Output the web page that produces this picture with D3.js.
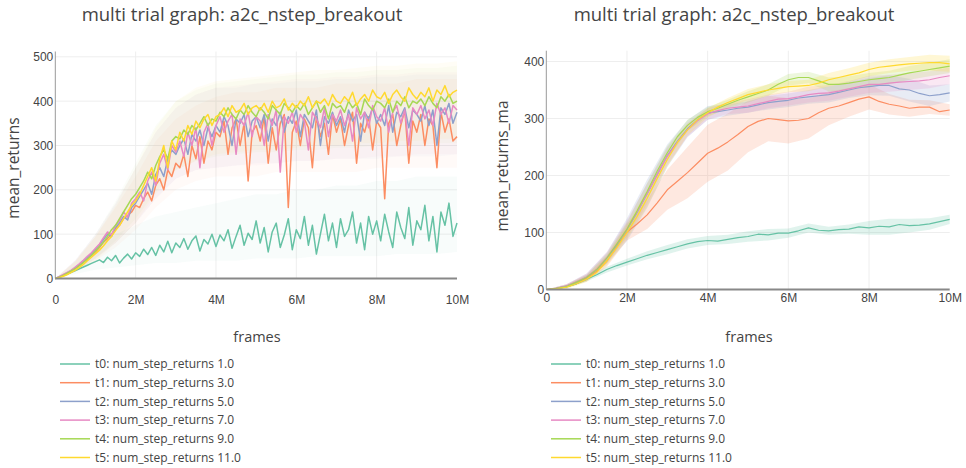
<!DOCTYPE html>
<html>
<head>
<meta charset="utf-8">
<title>multi trial graph: a2c_nstep_breakout</title>
<script src="https://cdn.jsdelivr.net/npm/d3@7"></script>
<style>
  body { margin: 0; background: #fff; }
  svg { font-family: "Open Sans", verdana, arial, sans-serif; }
  .grid line { stroke: #eee; stroke-width: 1px; }
  .tick text { fill: #444; font-size: 12px; }
  .ttl { fill: #444; }
</style>
</head>
<body>
<svg width="966" height="468"></svg>
<script>
var trials = ["t0: num_step_returns 1.0", "t1: num_step_returns 3.0", "t2: num_step_returns 5.0",
              "t3: num_step_returns 7.0", "t4: num_step_returns 9.0", "t5: num_step_returns 11.0"];
var colors = ["#66c2a5", "#fc8d62", "#8da0cb", "#e78ac3", "#a6d854", "#ffd92f"];
var xTicks = [0, 2e6, 4e6, 6e6, 8e6, 10e6];
var xTickLabels = ["0", "2M", "4M", "6M", "8M", "10M"];

// mean_returns, one point every 100k frames
var returnsT0 = [0,3,6,10,14,18,22,26,30,34,38, 42,36,48,40,52,35,46,55,44,58, 50,66,54,70,52,75,60,84,58,80,
  70,90,66,85,96,62,88,78,100,72, 98,85,110,68,95,120,75,102,88,130, 80,115,60,105,125,70,98,135,65,110,
  90,140,75,120,55,100,145,85,125,70, 135,95,110,150,80,125,65,140,100,130, 85,145,105,70,150,115,90,160,75,130,
  110,165,85,140,60,150,120,170,95,125];
var returnsT1 = [0,3,7,12,17,23,30,37,44,52,60, 70,82,90,100,112,120,135,142,150,165, 160,180,195,175,210,225,200,245,230,260,
  250,280,230,300,270,320,260,310,290,330, 320,355,280,340,360,300,350,220,330,345, 310,365,260,340,290,350,370,160,330,355,
  300,360,340,250,365,320,350,280,370,330, 360,300,345,375,260,350,330,365,290,355, 340,180,350,370,300,345,380,260,355,330,
  370,300,360,345,250,375,330,360,310,320];
var returnsT2 = [0,4,8,13,18,24,32,40,48,56,66, 76,88,100,95,115,125,140,132,160,170, 185,200,215,190,235,250,230,270,290,280,
  300,315,280,325,310,335,300,340,320,345, 330,365,345,300,360,350,370,320,355,365, 340,370,310,360,345,375,330,365,350,380,
  320,370,355,340,380,300,365,350,375,345, 365,330,380,355,370,310,375,360,385,350, 370,345,390,330,375,365,385,340,380,370,
  355,390,345,380,300,385,370,395,350,375];
var returnsT3 = [0,4,9,14,19,26,33,41,50,58,68, 78,92,105,98,120,130,150,138,170,180, 195,175,220,240,210,260,280,245,300,285,
  310,275,330,300,340,250,330,350,300,345, 365,330,355,370,280,360,345,375,320,365, 355,300,370,345,380,240,365,350,375,330,
  370,355,290,375,360,340,385,320,370,355, 380,345,370,310,385,360,375,340,390,365, 355,385,330,375,390,350,380,300,385,370,
  390,360,380,345,395,370,385,350,390,380];
var returnsT4 = [0,3,7,12,17,22,29,36,44,52,62, 72,82,95,110,120,135,150,165,180,190, 205,220,240,225,255,275,290,270,310,320,
  315,335,325,345,335,350,365,345,360,355, 375,365,385,370,360,380,370,390,375,365, 385,375,360,390,380,370,395,385,375,390,
  380,395,370,385,400,375,390,360,395,385, 390,375,400,385,395,370,405,390,380,400, 395,385,405,375,400,390,410,385,400,395,
  405,390,410,395,385,410,400,415,395,400];
var returnsT5 = [0,2,5,9,14,19,25,32,40,48,56, 64,74,85,95,108,120,135,150,165,175, 190,210,230,250,220,270,300,250,310,290,
  330,310,345,325,355,340,360,370,345,365, 370,385,365,390,375,380,395,370,385,390, 380,395,375,400,385,390,405,380,395,385,
  400,390,410,385,400,395,405,390,415,400, 395,410,400,420,390,405,415,400,425,410, 405,420,395,415,425,410,400,430,415,405,
  420,410,430,400,425,415,435,410,420,425];

// mean_returns trial spread, one point every 500k frames
var returnsLo = [
  [0,10,20,25,30,35,35,40,40,40,45,45,45,50,50,50,50,55,55,55,60],
  [0,15,40,70,110,160,200,220,230,230,230,240,240,240,240,240,250,250,250,250,250],
  [0,16,45,80,125,180,225,245,250,255,260,260,265,265,270,270,270,275,275,275,280],
  [0,16,45,80,125,180,225,245,250,255,255,260,265,265,270,270,275,275,280,280,280],
  [0,15,45,85,135,195,245,265,275,280,285,285,290,290,295,295,300,300,300,305,305],
  [0,14,40,80,125,190,245,265,280,285,290,290,295,300,300,305,305,310,310,315,315]];
var returnsHi = [
  [0,30,70,100,120,140,150,160,170,180,190,190,200,200,210,210,220,220,230,230,230],
  [0,40,95,160,230,310,360,390,410,420,420,430,430,430,440,440,440,440,450,450,450],
  [0,42,100,170,250,330,385,415,430,430,440,440,445,445,450,450,455,455,460,460,460],
  [0,42,100,170,250,330,385,415,430,435,440,445,450,450,455,455,460,460,465,465,465],
  [0,40,100,175,260,345,400,425,440,445,450,455,460,460,465,465,470,470,475,475,480],
  [0,38,95,165,250,340,400,430,445,450,455,460,465,470,470,475,480,480,485,485,490]];

// mean_returns_ma, one point every 250k frames
var maT0 = [0,1,5,10,18,26,35,42,48,54,60,65,70,75,80,84,86,85,88,91,93,97,96,99,99,103,108,104,103,105,106,110,108,111,110,114,112,113,115,119,123];
var maT1 = [0,2,6,12,20,32,50,75,101,115,131,152,175,190,205,222,239,248,259,272,286,295,300,298,296,297,300,310,318,322,328,334,338,330,325,322,318,320,320,312,315];
var maT2 = [0,2,6,13,22,35,55,78,105,135,168,202,235,260,282,298,310,312,315,318,320,324,328,330,332,336,338,340,342,346,350,354,356,358,358,352,350,344,340,342,345];
var maT3 = [0,2,6,14,22,36,56,80,106,136,168,202,234,258,280,296,308,314,318,320,322,326,330,334,335,338,342,344,345,348,352,356,360,360,362,364,365,366,368,372,375];
var maT4 = [0,2,5,13,21,35,55,80,106,138,172,208,240,268,288,302,312,318,325,332,338,344,350,360,368,372,372,366,360,360,362,365,368,370,372,376,380,383,386,389,392];
var maT5 = [0,1,4,10,18,30,50,74,100,128,160,195,228,258,280,298,310,320,328,335,342,346,350,353,356,357,358,362,368,372,376,380,386,390,392,394,396,397,398,398,396];

// mean_returns_ma trial spread (+/-), one point every 500k frames
var maSpread = [
  [0,2,4,5,6,7,8,8,8,8,9,10,8,8,7,8,12,14,12,10,8],
  [0,3,6,10,15,25,35,45,50,50,45,40,40,35,30,25,22,18,15,12,10],
  [0,3,6,10,20,25,20,15,12,10,10,12,12,12,14,14,15,18,20,18,15],
  [0,3,6,10,15,18,15,12,10,10,12,12,12,14,14,14,15,15,15,15,15],
  [0,3,5,8,12,15,12,10,8,8,10,10,10,10,12,12,12,12,12,12,12],
  [0,3,5,8,12,15,12,10,8,8,10,10,10,10,12,12,12,12,12,14,14]];

var returns = [returnsT0, returnsT1, returnsT2, returnsT3, returnsT4, returnsT5];
var ma = [maT0, maT1, maT2, maT3, maT4, maT5];

var svg = d3.select("svg");

function panel(opt) {
  var g = svg.append("g");
  var x = d3.scaleLinear().domain([0, 10e6]).range([opt.left, opt.right]);
  var y = d3.scaleLinear().domain([0, opt.ymax]).range([opt.bottom, opt.top]);

  // grid
  g.append("g").attr("class", "grid").selectAll("line")
    .data(xTicks.slice(1, 5)).enter().append("line")
    .attr("x1", function(d) { return x(d); }).attr("x2", function(d) { return x(d); })
    .attr("y1", y(opt.ymax)).attr("y2", opt.bottom);
  g.append("g").attr("class", "grid").selectAll("line")
    .data(opt.yTicks.slice(1)).enter().append("line")
    .attr("x1", opt.left).attr("x2", opt.right)
    .attr("y1", function(d) { return y(d); }).attr("y2", function(d) { return y(d); });

  // bands
  var area = d3.area()
    .x(function(d) { return x(d.x); })
    .y0(function(d) { return y(d.lo); })
    .y1(function(d) { return y(d.hi); });
  opt.bands.forEach(function(b, i) {
    g.append("path").attr("d", area(b))
      .attr("fill", colors[i]).attr("fill-opacity", opt.bandOpacity).attr("stroke", "none");
  });

  // lines
  var line = d3.line()
    .x(function(d) { return x(d.x); })
    .y(function(d) { return y(d.y); });
  opt.series.forEach(function(s, i) {
    g.append("path").attr("d", line(s))
      .attr("fill", "none").attr("stroke", colors[i])
      .attr("stroke-width", opt.lineWidth).attr("stroke-linejoin", "round");
  });

  // axes
  var ax = g.append("g").attr("transform", "translate(0," + opt.bottom + ")")
    .call(d3.axisBottom(x).tickValues(xTicks).tickSize(0).tickPadding(opt.xPad)
      .tickFormat(function(d, i) { return xTickLabels[i]; }));
  ax.select(".domain").remove();
  var ay = g.append("g").attr("transform", "translate(" + opt.left + ",0)")
    .call(d3.axisLeft(y).tickValues(opt.yTicks).tickSize(0).tickPadding(2));
  ay.select(".domain").remove();
  g.selectAll(".tick text").attr("font-family", null).attr("font-size", null);

  g.append("line").attr("x1", opt.left).attr("x2", opt.left)
    .attr("y1", opt.top).attr("y2", opt.bottom)
    .attr("stroke", "#999").attr("stroke-width", 1);
  g.append("line").attr("x1", opt.left).attr("x2", opt.right)
    .attr("y1", opt.bottom).attr("y2", opt.bottom)
    .attr("stroke", "#888").attr("stroke-width", 2);

  // titles
  g.append("text").attr("class", "ttl").attr("x", opt.titleX).attr("y", 21)
    .attr("text-anchor", "middle").style("font-size", "18.5px")
    .text("multi trial graph: a2c_nstep_breakout");
  g.append("text").attr("class", "ttl").attr("x", opt.framesX).attr("y", 342)
    .attr("text-anchor", "middle").style("font-size", "14.5px").text("frames");
  g.append("text").attr("class", "ttl")
    .attr("transform", "translate(" + opt.yTitleX + "," + opt.yTitleY + ") rotate(-90)")
    .attr("text-anchor", "middle").style("font-size", "15.5px").text(opt.yTitle);

  // legend
  var lg = g.append("g").selectAll("g").data(trials).enter().append("g")
    .attr("transform", function(d, i) { return "translate(" + opt.legendX + "," + (364 + i * 18.7) + ")"; });
  lg.append("line").attr("x1", 0).attr("x2", 30).attr("y1", 0).attr("y2", 0)
    .attr("stroke", function(d, i) { return colors[i]; }).attr("stroke-width", 1.5);
  lg.append("text").attr("x", 35).attr("dy", "0.35em").attr("class", "ttl")
    .style("font-size", "12px").text(function(d) { return d; });
}

panel({
  left: 55.3, right: 457, top: 51.5, bottom: 278.5, ymax: 512,
  yTicks: [0, 100, 200, 300, 400, 500], xPad: 17,
  series: returns.map(function(arr) { return arr.map(function(v, i) { return {x: i * 1e5, y: v}; }); }),
  bands: returnsLo.map(function(lo, k) {
    return lo.map(function(v, i) { return {x: i * 5e5, lo: v, hi: returnsHi[k][i]}; });
  }),
  bandOpacity: 0.045, lineWidth: 1.5,
  titleX: 242, framesX: 257, yTitleX: 19, yTitleY: 168, yTitle: "mean_returns", legendX: 60
});

panel({
  left: 546.3, right: 949.7, top: 50.7, bottom: 289.5, ymax: 419,
  yTicks: [0, 100, 200, 300, 400], xPad: 4,
  series: ma.map(function(arr) { return arr.map(function(v, i) { return {x: i * 2.5e5, y: v}; }); }),
  bands: maSpread.map(function(sp, k) {
    return sp.map(function(v, i) { var m = ma[k][i * 2]; return {x: i * 5e5, lo: m - v, hi: m + v}; });
  }),
  bandOpacity: 0.2, lineWidth: 1.2,
  titleX: 734, framesX: 749, yTitleX: 508, yTitleY: 166, yTitle: "mean_returns_ma", legendX: 551
});
</script>
</body>
</html>
